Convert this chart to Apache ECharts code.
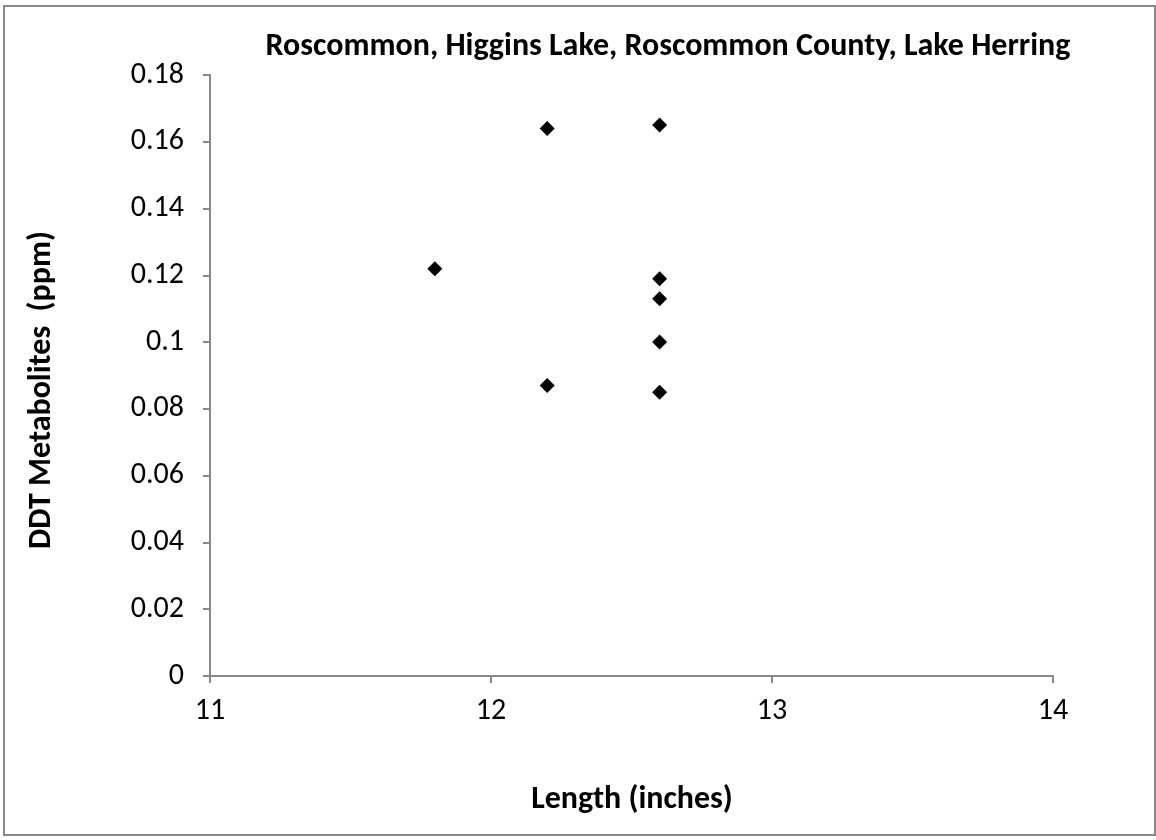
<!DOCTYPE html>
<html>
<head>
<meta charset="utf-8">
<script src="https://cdn.jsdelivr.net/npm/echarts@6/dist/echarts.min.js"></script>
<style>
  html, body { margin: 0; padding: 0; background: #fff; }
  #chart { width: 1156px; height: 840px; }
</style>
</head>
<body>
<div id="chart"></div>
<script>
// fish length (inches) vs DDT metabolites (ppm)
var lengths = [11.8, 12.2, 12.2, 12.6, 12.6, 12.6, 12.6, 12.6];
var ddtValues = [0.122, 0.164, 0.087, 0.165, 0.119, 0.113, 0.1, 0.085];
var xTicks = [11, 12, 13, 14];
var yTicks = [0, 0.02, 0.04, 0.06, 0.08, 0.1, 0.12, 0.14, 0.16, 0.18];

var titleText = 'Roscommon, Higgins Lake, Roscommon County, Lake Herring';
var xName = 'Length (inches)';
var yName = 'DDT Metabolites  (ppm)';

var points = lengths.map(function (x, i) { return [x, ddtValues[i]]; });

var font = 'Carlito, "Open Sans", "Liberation Sans", sans-serif';
var chart = echarts.init(document.getElementById('chart'));

var option = {
    backgroundColor: '#fff',
    animation: false,
    textStyle: { fontFamily: font },
    grid: { left: 210, right: 103, top: 75, bottom: 164 },
    xAxis: {
        type: 'value',
        min: xTicks[0],
        max: xTicks[xTicks.length - 1],
        interval: 1,
        axisLine: { show: true, lineStyle: { color: '#888', width: 2 } },
        axisTick: { show: true, inside: false, length: 7, lineStyle: { color: '#888', width: 2 } },
        axisLabel: { color: '#000', fontSize: 30, margin: 20, fontFamily: font },
        splitLine: { show: false }
    },
    yAxis: {
        type: 'value',
        min: yTicks[0],
        max: yTicks[yTicks.length - 1],
        interval: 0.02,
        axisLine: { show: true, lineStyle: { color: '#888', width: 2 } },
        axisTick: { show: true, inside: false, length: 7, lineStyle: { color: '#888', width: 2 } },
        axisLabel: { color: '#000', fontSize: 30, margin: 26, fontFamily: font },
        splitLine: { show: false }
    },
    graphic: [
        {
            type: 'rect',
            shape: { x: 4, y: 6, width: 1151, height: 829 },
            style: { fill: 'none', stroke: '#888', lineWidth: 2 },
            silent: true
        },
        {
            type: 'text',
            x: 668, y: 47,
            style: {
                text: titleText, fill: '#000', font: 'bold 32px ' + font,
                textAlign: 'center', textVerticalAlign: 'middle'
            }
        },
        {
            type: 'text',
            x: 632, y: 800,
            style: {
                text: xName, fill: '#000', font: 'bold 32px ' + font,
                textAlign: 'center', textVerticalAlign: 'middle'
            }
        },
        {
            type: 'text',
            x: 42, y: 390,
            rotation: Math.PI / 2,
            style: {
                text: yName, fill: '#000', font: 'bold 32px ' + font,
                textAlign: 'center', textVerticalAlign: 'middle'
            }
        }
    ],
    series: [
        {
            type: 'scatter',
            symbol: 'diamond',
            symbolSize: 15,
            itemStyle: { color: '#000', opacity: 1 },
            data: points
        }
    ]
};
chart.setOption(option);
</script>
</body>
</html>
